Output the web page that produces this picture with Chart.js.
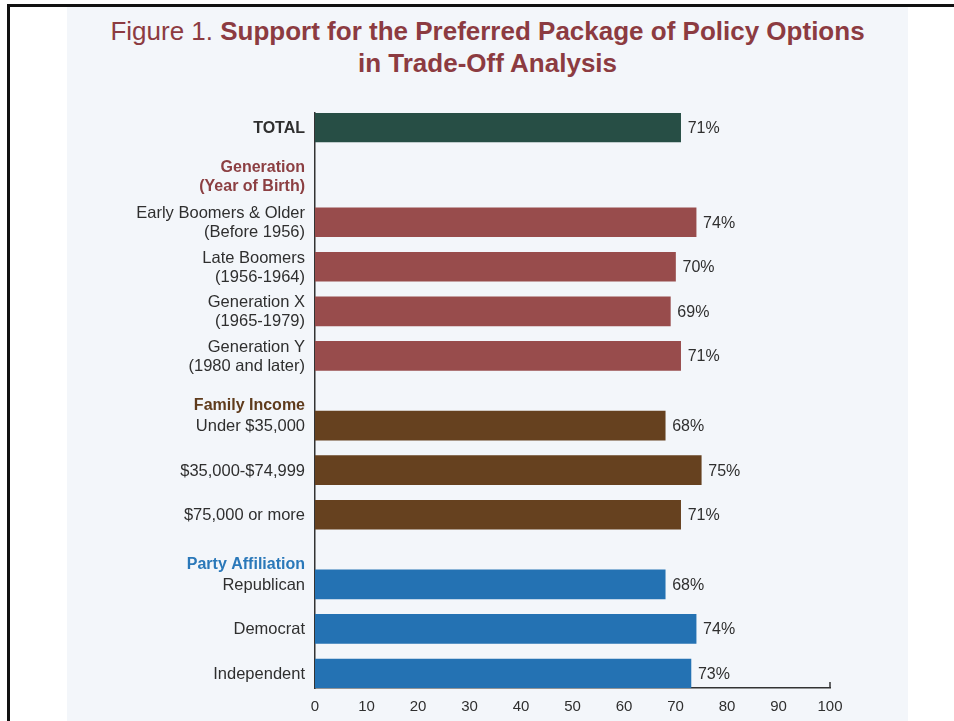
<!DOCTYPE html>
<html>
<head>
<meta charset="utf-8">
<script src="https://cdn.jsdelivr.net/npm/chart.js@4.4.1/dist/chart.umd.min.js"></script>
<style>
  html,body{margin:0;padding:0;background:#fff;}
  body{width:954px;height:721px;position:relative;overflow:hidden;font-family:"Liberation Sans",Arial,sans-serif;}
  #frameTop{position:absolute;left:7px;top:4px;width:947px;height:3px;background:#111;}
  #frameLeft{position:absolute;left:7px;top:4px;width:3px;height:717px;background:#111;}
  #panel{position:absolute;left:67px;top:7px;width:841px;height:714px;background:#f3f6fa;}
  #title{position:absolute;left:67px;top:15px;width:841px;text-align:center;color:#8c3b41;font-size:26px;line-height:32px;}
  #title b{font-weight:bold;}
  #chart{position:absolute;left:0;top:0;}
</style>
</head>
<body>
<div id="frameTop"></div>
<div id="frameLeft"></div>
<div id="panel"></div>
<div id="title">Figure 1. <b>Support for the Preferred Package of Policy Options</b><br><b>in Trade-Off Analysis</b></div>
<canvas id="chart" width="954" height="721"></canvas>
<script>
// ====== DATA ======
const GROUP_HEADERS = [[], ['Generation','(Year of Birth)'], ['Family Income'], ['Party Affiliation']];
const GROUP_LABELS = [
  [['TOTAL']],
  [['Early Boomers & Older','(Before 1956)'], ['Late Boomers','(1956-1964)'], ['Generation X','(1965-1979)'], ['Generation Y','(1980 and later)']],
  [['Under $35,000'], ['$35,000-$74,999'], ['$75,000 or more']],
  [['Republican'], ['Democrat'], ['Independent']]
];
const GROUP_VALUES = [[71], [74,70,69,71], [68,75,71], [68,74,73]];
const X_MIN = 0, X_MAX = 100, X_STEP = 10;

// ====== STYLE ======
const FONT = '"Liberation Sans", Arial, sans-serif';
const BAR_COLORS = ['#274e45','#984c4c','#66411f','#2472b3'];
const HEADER_COLORS = ['#222','#8c3f42','#5f3b1c','#2a78b9'];
const TEXT = '#2f2f2f';
const STEP = 4, HEADER_LINE = 2.25, LINE_H = 19;

// rows with index positions, built from group structure
const rows = [];
const headers = [];
let pos = 0;
GROUP_LABELS.forEach((labels, gi) => {
  if (GROUP_HEADERS[gi].length) {
    pos += HEADER_LINE * GROUP_HEADERS[gi].length;
    headers.push({ lines: GROUP_HEADERS[gi], at: pos, firstLines: labels[0].length, color: HEADER_COLORS[gi] });
  }
  labels.forEach((lab, i) => {
    rows.push({ pos, label: lab, value: GROUP_VALUES[gi][i], color: BAR_COLORS[gi], bold: gi === 0 });
    pos += STEP;
  });
});
const lastPos = rows[rows.length - 1].pos;

// ====== LABELS PLUGIN ======
const labelsPlugin = {
  id: 'labels',
  afterDatasetsDraw(chart) {
    const c = chart.ctx, y = chart.scales.y, x = chart.scales.x;
    c.save();
    // category labels
    c.textAlign = 'right'; c.textBaseline = 'middle';
    rows.forEach(r => {
      const py = y.getPixelForValue(r.pos);
      c.fillStyle = TEXT;
      c.font = r.bold ? 'bold 16px ' + FONT : '16.5px ' + FONT;
      const n = r.label.length;
      r.label.forEach((t, k) => c.fillText(t, 305, py + (k - (n - 1) / 2) * LINE_H + 1));
    });
    // group headers
    headers.forEach(h => {
      const extra = h.firstLines - 1;
      const py = y.getPixelForValue(h.at) - extra * (LINE_H / 2 + 7) - 19.5;
      c.fillStyle = h.color;
      c.font = 'bold 16px ' + FONT;
      const n = h.lines.length;
      h.lines.forEach((t, k) => c.fillText(t, 305, py - (n - 1 - k) * LINE_H));
    });
    // value labels
    c.textAlign = 'left'; c.fillStyle = TEXT; c.font = '16px ' + FONT;
    chart.getDatasetMeta(0).data.forEach((el, i) => {
      c.fillText(rows[i].value + '%', el.x + 7, el.y + 1);
    });
    // end tick on x axis
    c.strokeStyle = '#333'; c.lineWidth = 1.5;
    const ex = x.getPixelForValue(X_MAX);
    c.beginPath(); c.moveTo(ex, chart.chartArea.bottom); c.lineTo(ex, chart.chartArea.bottom - 6); c.stroke();
    c.restore();
  }
};

// ====== CHART ======
new Chart(document.getElementById('chart').getContext('2d'), {
  type: 'bar',
  data: {
    datasets: [{
      data: rows.map(r => ({ x: r.value, y: r.pos })),
      backgroundColor: rows.map(r => r.color),
      borderWidth: 0,
      barThickness: 29
    }]
  },
  options: {
    indexAxis: 'y',
    responsive: false,
    animation: false,
    layout: { padding: { left: 315, right: 124, top: 113, bottom: 0 } },
    plugins: { legend: { display: false }, tooltip: { enabled: false } },
    scales: {
      x: {
        type: 'linear', min: X_MIN, max: X_MAX,
        ticks: { stepSize: X_STEP, color: TEXT, font: { family: FONT, size: 15 }, padding: 10, maxRotation: 0 },
        grid: { display: false, drawTicks: false },
        border: { color: '#333', width: 1.5 },
        afterFit(s) { s.height = 33; }
      },
      y: {
        type: 'linear', reverse: true, min: -1.3, max: lastPos + 1.3,
        offset: false, grace: 0,
        ticks: { display: false },
        grid: { display: false, drawTicks: false, offset: false },
        border: { color: '#333', width: 1.5 },
        afterFit(s) { s.width = 0; }
      }
    }
  },
  plugins: [labelsPlugin]
});
</script>
</body>
</html>
